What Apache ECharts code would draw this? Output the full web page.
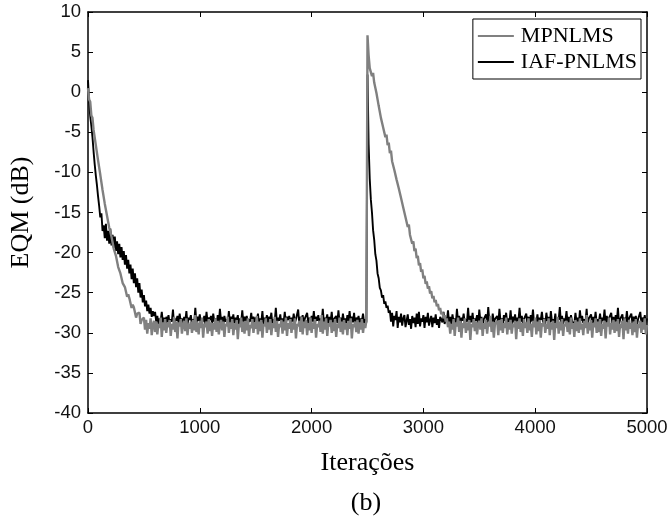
<!DOCTYPE html>
<html>
<head>
<meta charset="utf-8">
<script src="https://cdn.jsdelivr.net/npm/echarts@6/dist/echarts.min.js"></script>
<style>html,body{margin:0;padding:0;background:#fff}#c{width:671px;height:523px}</style>
</head>
<body>
<div id="c"></div>
<script>
// sampling step of the curves (iterations between successive samples)
var step = 10;
var xTicks = [0, 1000, 2000, 3000, 4000, 5000];
var yTicks = [-40, -35, -30, -25, -20, -15, -10, -5, 0, 5, 10];
var seriesNames = ['MPNLMS', 'IAF-PNLMS'];

// MPNLMS (grey) EQM in dB, one value every 10 iterations (0..5000)
var mpnlms = [
  0.5, -0.9, -1.2, -2.9, -3.2, -4.7, -4.9, -6.6, -6.8, -8.5, -8.7, -10.3, -10.5, -12.2, -12.3, -13.9, -14.0, -15.4, -15.4, -16.9,
  -17.0, -18.0, -18.1, -19.5, -19.5, -20.4, -20.3, -21.8, -21.7, -22.6, -22.5, -23.8, -23.6, -24.3, -24.1, -25.5, -25.2, -25.7, -25.5, -26.9,
  -26.5, -26.8, -26.7, -28.1, -27.6, -27.6, -27.5, -28.9, -28.4, -28.3, -28.1,
  -29.6, -28.4, -30.1, -28.8, -29.5, -28.2, -30.3, -29.0, -28.5, -29.9,
  -28.6, -30.2, -28.9, -29.4, -28.1, -30.5, -28.7, -29.7, -28.3, -30.0,
  -28.8, -29.3, -28.4, -30.4, -28.9, -29.6, -28.0, -29.9, -28.6, -30.7,
  -28.7, -29.2, -28.3, -30.1, -29.0, -28.5, -29.8, -28.2, -30.3, -28.9,
  -29.5, -28.6, -30.0, -28.4, -29.7, -27.8, -29.9, -28.8, -30.2, -28.5,
  -29.4, -28.1, -30.6, -28.9, -29.3, -28.6, -30.1, -28.3, -29.8, -28.7,
  -30.4, -28.8, -29.6, -28.2, -29.9, -28.5, -30.2, -29.0, -28.4, -29.7,
  -28.6, -30.5, -28.9, -29.2, -28.0, -30.0, -28.7, -29.5, -28.3, -30.3,
  -28.8, -29.6, -28.4, -30.8, -28.9, -29.3, -28.1, -29.9, -28.6, -30.1,
  -28.5, -29.7, -28.2, -30.4, -29.0, -29.4, -28.3, -30.0, -28.8, -29.5,
  -27.9, -30.2, -28.6, -29.8, -28.4, -30.6, -28.9, -29.2, -28.2, -30.0,
  -28.7, -29.6, -28.3, -30.3, -28.8, -29.4, -28.0, -29.9, -28.5, -30.5,
  -28.9, -29.3, -28.4, -30.1, -28.6, -29.7, -28.1, -30.4, -28.8, -29.5,
  -28.3, -30.0, -28.7, -29.6, -28.2, -30.7, -28.9, -29.2, -28.5, -29.9,
  -28.0, -30.2, -28.6, -29.4, -28.4, -30.3, -28.8, -29.7, -28.1, -30.0,
  -28.7, -29.5, -28.3, -30.6, -28.9, -29.3, -28.5, -29.9, -27.8, -30.1,
  -28.6, -29.6, -28.2, -30.4, -28.8, -29.2, -28.4, -30.0, -28.7, -29.8,
  -28.3, -30.5, -28.9, -29.4, -28.1, -29.9, -28.6, -30.2, -28.4, -29.6,
  -28.8, -30.3, -28.5, -29.5, -28.2, -30.7, -28.9, -29.3, -28.6, -29.9,
  -28.4, -30.1, -28.7, -29.6, -28.3, -30.0, -28.8, -29.4, -28.5,
  7.1,
  4.6, 3.0, 3.1, 2.0, 2.4, 1.2, 1.4, -0.1, -0.2, -1.7,
  -1.8, -3.2, -3.0, -4.4, -4.2, -5.6, -5.3, -6.6, -6.3, -7.6,
  -7.3, -8.6, -8.5, -9.7, -9.5, -10.9, -10.7, -12.0, -11.8, -13.2,
  -13.0, -14.4, -14.2, -15.6, -15.4, -16.8, -16.5, -17.8, -17.6, -18.9,
  -18.6, -19.8, -19.5, -20.7, -20.4, -21.6, -21.3, -22.4, -22.1, -23.2,
  -22.9, -23.9, -23.6, -24.5, -24.2, -25.1, -24.8, -25.7, -25.4, -26.2,
  -25.9, -26.7, -26.4, -27.2, -26.9, -27.7, -27.4, -28.2, -27.8, -28.6,
  -28.2,
  -29.3, -28.6, -30.1, -28.9, -29.6, -28.3, -30.4, -28.7, -29.2, -28.1,
  -29.9, -28.5, -30.6, -28.8, -29.4, -28.2, -30.0, -28.7, -29.7, -28.4,
  -30.9, -28.9, -29.3, -28.3, -29.8, -28.6, -30.2, -28.9, -28.5, -29.6,
  -28.2, -30.4, -28.8, -29.5, -28.4, -30.1, -28.7, -29.2, -27.9, -29.9,
  -28.6, -30.6, -28.9, -29.1, -28.5, -30.3, -28.4, -29.7, -28.3, -30.0,
  -28.8, -29.4, -28.1, -30.2, -28.7, -29.6, -28.4, -30.1, -28.9, -29.3,
  -28.5, -30.8, -28.6, -29.5, -28.2, -29.9, -28.8, -30.4, -28.3, -29.4,
  -28.7, -30.0, -28.2, -29.7, -28.9, -30.5, -28.5, -29.3, -28.1, -30.2,
  -28.6, -29.8, -28.4, -30.6, -28.8, -29.2, -28.3, -30.0, -28.9, -29.5,
  -28.2, -30.3, -28.7, -29.6, -28.5, -30.9, -28.8, -29.4, -28.0, -30.1,
  -28.6, -29.7, -28.3, -30.4, -28.9, -29.2, -28.5, -29.9, -28.7, -30.2,
  -28.1, -29.5, -28.8, -30.5, -28.4, -29.8, -28.6, -30.0, -28.2, -29.6,
  -28.9, -30.3, -28.5, -29.4, -27.8, -30.1, -28.7, -29.7, -28.4, -30.6,
  -28.8, -29.3, -28.2, -30.0, -28.6, -29.9, -28.3, -30.4, -28.9, -29.5,
  -28.5, -30.7, -28.7, -29.2, -28.1, -30.2, -28.8, -29.6, -28.4, -30.0,
  -28.6, -29.8, -28.3, -30.5, -28.9, -29.4, -28.5, -30.8, -28.2, -29.7,
  -28.7, -30.1, -28.4, -29.5, -28.8, -30.3, -28.6, -29.9, -28.3, -30.6,
  -28.9, -29.4, -28.5, -30.0, -28.7, -29.6, -28.2, -30.2, -29.0
];

// IAF-PNLMS (black) EQM in dB, one value every 10 iterations (0..5000)
var iafpnlms = [
  1.5, -1.2, -3.0, -4.2, -5.6, -7.4, -9.0, -10.4, -11.6, -13.0,
  -14.2, -15.6, -15.1, -17.3, -16.6, -18.2, -16.4, -18.5, -17.3, -18.9,
  -17.0, -19.1, -17.8, -19.4, -18.0, -19.8, -18.6, -20.2, -18.9, -20.6,
  -19.3, -20.9, -19.8, -21.5, -20.3, -22.0, -20.9, -22.6, -21.5, -23.3,
  -22.0, -23.8, -22.6, -24.3, -23.2, -25.0, -23.8, -25.6, -24.6, -26.2,
  -25.3, -26.7, -26.0, -27.3, -26.5, -27.6, -26.9, -28.0, -27.3, -27.9,
  -27.4,
  -28.6, -27.9, -28.9, -28.2, -28.5, -27.4, -28.8, -28.1, -29.1, -28.0,
  -28.7, -27.8, -28.9, -28.3, -28.6, -27.1, -29.0, -28.2, -28.5, -27.9,
  -28.8, -27.6, -28.7, -28.2, -29.2, -28.0, -28.6, -27.3, -28.9, -28.1,
  -28.4, -27.8, -29.0, -28.3, -28.7, -26.9, -28.8, -28.0, -28.5, -27.7,
  -29.1, -28.2, -28.6, -27.9, -28.9, -27.4, -28.7, -28.1, -28.4, -27.9,
  -28.9, -27.6, -28.6, -28.2, -29.2, -27.8, -28.8, -27.0, -28.5, -28.0,
  -29.0, -27.9, -28.6, -28.3, -28.8, -27.3, -28.9, -28.0, -28.5, -27.7,
  -29.0, -28.1, -28.4, -27.8, -29.1, -28.2, -28.7, -27.2, -28.8, -28.0,
  -28.5, -27.9, -29.0, -28.3, -28.6, -27.5, -28.9, -28.0, -28.7, -28.1,
  -28.5, -27.6, -28.9, -28.2, -28.7, -27.3, -29.0, -28.1, -28.6, -27.8,
  -28.9, -28.0, -28.4, -27.5, -29.1, -28.3, -28.6, -26.9, -28.8, -28.1,
  -28.5, -27.7, -29.0, -28.2, -28.7, -27.4, -28.9, -28.0, -28.4, -27.9,
  -29.2, -28.1, -28.6, -27.6, -28.8, -28.3, -28.5, -27.1, -29.0, -28.0,
  -28.7, -27.8, -28.9, -28.2, -28.4, -27.5, -28.8, -28.1, -29.1, -27.9,
  -28.6, -27.3, -28.9, -28.0, -28.5, -27.8, -29.0, -28.2, -28.7, -27.0,
  -28.8, -28.1, -28.4, -27.7, -29.2, -28.0, -28.6, -27.4, -28.9, -28.3,
  -28.5, -27.9, -28.8, -27.2, -28.7, -28.1, -29.0, -27.6, -28.6, -28.2,
  -28.9, -27.8, -28.5, -27.3, -28.8, -28.0, -28.7, -27.5, -29.1, -28.1,
  -28.6, -27.9, -28.9, -28.2, -28.5, -27.6, -28.8, -28.3, -28.7,
  2.2,
  -6.5, -10.8, -13.4, -15.0, -17.2, -18.4, -20.2, -21.0, -22.6, -23.2,
  -24.4, -24.7, -25.6, -25.3, -26.4, -26.1, -26.9, -26.6, -27.5, -27.2,
  -28.6, -27.5, -29.2, -27.9, -28.4, -27.3, -29.4, -28.0, -28.7, -27.6,
  -29.1, -28.2, -27.8, -29.3, -28.5, -27.7, -29.0, -28.3, -29.5, -27.9,
  -28.8, -28.1, -29.3, -27.6, -28.9, -27.4, -29.2, -28.2, -28.6, -27.8,
  -29.4, -28.0, -28.7, -27.5, -29.1, -28.4, -27.9, -29.3, -28.1, -28.8,
  -27.7, -29.0, -28.3, -29.4, -28.0,
  -27.8, -28.7, -27.4, -28.9, -28.1, -28.5, -27.2, -28.8, -28.0, -29.0,
  -27.7, -28.6, -28.2, -28.9, -27.0, -28.6, -27.9, -29.1, -28.1, -28.5,
  -27.6, -28.8, -28.3, -28.6, -26.9, -28.9, -27.9, -28.7, -27.5, -29.0,
  -28.2, -28.5, -27.8, -28.9, -27.1, -28.6, -28.0, -29.2, -28.3, -28.4,
  -27.7, -28.8, -26.8, -28.6, -28.1, -29.0, -27.6, -28.7, -28.3, -28.5,
  -27.9, -28.9, -27.0, -28.6, -28.2, -29.1, -27.8, -28.5, -27.5, -28.8,
  -28.2, -28.6, -27.2, -28.9, -28.0, -28.7, -27.7, -29.0, -28.1, -28.5,
  -26.9, -28.6, -27.9, -28.9, -28.3, -28.4, -27.6, -28.8, -28.0, -29.1,
  -27.8, -28.6, -27.1, -28.9, -28.2, -28.7, -27.7, -29.0, -28.1, -28.4,
  -27.4, -28.7, -28.2, -28.9, -27.5, -28.5, -28.0, -29.1, -27.3, -28.6,
  -28.3, -28.8, -27.6, -29.0, -28.1, -28.4, -26.8, -28.7, -27.9, -28.9,
  -28.2, -28.5, -27.3, -28.8, -28.0, -29.2, -27.8, -28.6, -28.4, -28.9,
  -27.5, -28.7, -28.1, -29.0, -27.2, -28.5, -27.9, -28.8, -28.3, -28.6,
  -27.0, -28.9, -28.2, -28.4, -27.7, -29.1, -28.0, -28.7, -27.4, -28.8,
  -28.3, -28.6, -27.6, -28.9, -28.1, -28.5, -27.1, -29.0, -27.9, -28.7,
  -28.2, -28.4, -27.5, -28.8, -28.0, -29.2, -27.8, -28.6, -26.9, -28.9,
  -28.3, -28.5, -27.7, -29.0, -28.1, -28.7, -27.3, -28.8, -28.2, -28.4,
  -27.6, -28.9, -28.0, -28.6, -27.9, -29.1, -28.3, -28.5, -27.4, -28.8,
  -28.1, -28.7, -27.8, -29.0, -28.2
];

function pairs(arr) {
  return arr.map(function (v, i) { return [i * step, v]; });
}

var chart = echarts.init(document.getElementById('c'), null, {renderer: 'canvas'});
var axisFont = {fontFamily: 'Liberation Sans, Arial, sans-serif', fontSize: 18.5, color: '#111'};
var serif = 'Liberation Serif, Times New Roman, serif';

chart.setOption({
  animation: false,
  backgroundColor: '#fff',
  grid: {left: 87, right: 24, top: 12, bottom: 110, containLabel: false},
  legend: {
    data: [{name: 'MPNLMS', icon: 'rect'}, {name: 'IAF-PNLMS', icon: 'rect'}],
    orient: 'vertical',
    right: 30,
    top: 19,
    borderColor: '#000',
    borderWidth: 1,
    borderRadius: 0,
    padding: [6, 4, 6, 5],
    itemGap: 4,
    itemWidth: 36,
    itemHeight: 2,
    textStyle: {fontFamily: serif, fontSize: 22, color: '#000', padding: [0, 0, 0, 2], lineHeight: 22}
  },
  xAxis: [{
    type: 'value', min: 0, max: 5000, interval: 1000,
    name: 'Iterações', nameLocation: 'middle', nameGap: 37,
    nameTextStyle: {fontFamily: serif, fontSize: 26, color: '#000'},
    axisLine: {onZero: false, lineStyle: {color: '#000', width: 1.5}},
    axisTick: {inside: true, length: 5, lineStyle: {color: '#000'}},
    axisLabel: Object.assign({margin: 5, formatter: function (v) { return xTicks.indexOf(v) >= 0 ? String(v) : ''; }}, axisFont),
    splitLine: {show: false}
  }, {
    type: 'value', min: 0, max: 5000, interval: 1000, position: 'top',
    axisLine: {onZero: false, lineStyle: {color: '#000', width: 1.5}},
    axisTick: {inside: true, length: 5, lineStyle: {color: '#000'}},
    axisLabel: {show: false}, splitLine: {show: false}
  }],
  yAxis: [{
    type: 'value', min: -40, max: 10, interval: 5,
    name: 'EQM (dB)', nameLocation: 'middle', nameGap: 54,
    nameTextStyle: {fontFamily: serif, fontSize: 26, color: '#000'},
    axisLine: {show: true, onZero: false, lineStyle: {color: '#000', width: 1.5}},
    axisTick: {show: true, inside: true, length: 5, lineStyle: {color: '#000'}},
    axisLabel: Object.assign({margin: 7, formatter: function (v) { return yTicks.indexOf(v) >= 0 ? String(v) : ''; }}, axisFont),
    splitLine: {show: false}
  }, {
    type: 'value', min: -40, max: 10, interval: 5, position: 'right',
    axisLine: {show: true, onZero: false, lineStyle: {color: '#000', width: 1.5}},
    axisTick: {show: true, inside: true, length: 5, lineStyle: {color: '#000'}},
    axisLabel: {show: false}, splitLine: {show: false}
  }],
  series: [{
    name: 'IAF-PNLMS', type: 'line', xAxisIndex: 0, yAxisIndex: 0,
    data: pairs(iafpnlms), showSymbol: false, symbol: 'none',
    lineStyle: {color: '#000', width: 1.9, join: 'bevel'}, itemStyle: {color: '#000'}
  }, {
    name: 'MPNLMS', type: 'line', xAxisIndex: 0, yAxisIndex: 0,
    data: pairs(mpnlms), showSymbol: false, symbol: 'none',
    lineStyle: {color: '#808080', width: 2.4, join: 'bevel'}, itemStyle: {color: '#808080'}
  }],
  graphic: [{
    type: 'text', x: 366, y: 503,
    style: {text: '(b)', fontFamily: serif, fontSize: 26, fill: '#000', textAlign: 'center', textVerticalAlign: 'middle'}
  }]
});
</script>
</body>
</html>
